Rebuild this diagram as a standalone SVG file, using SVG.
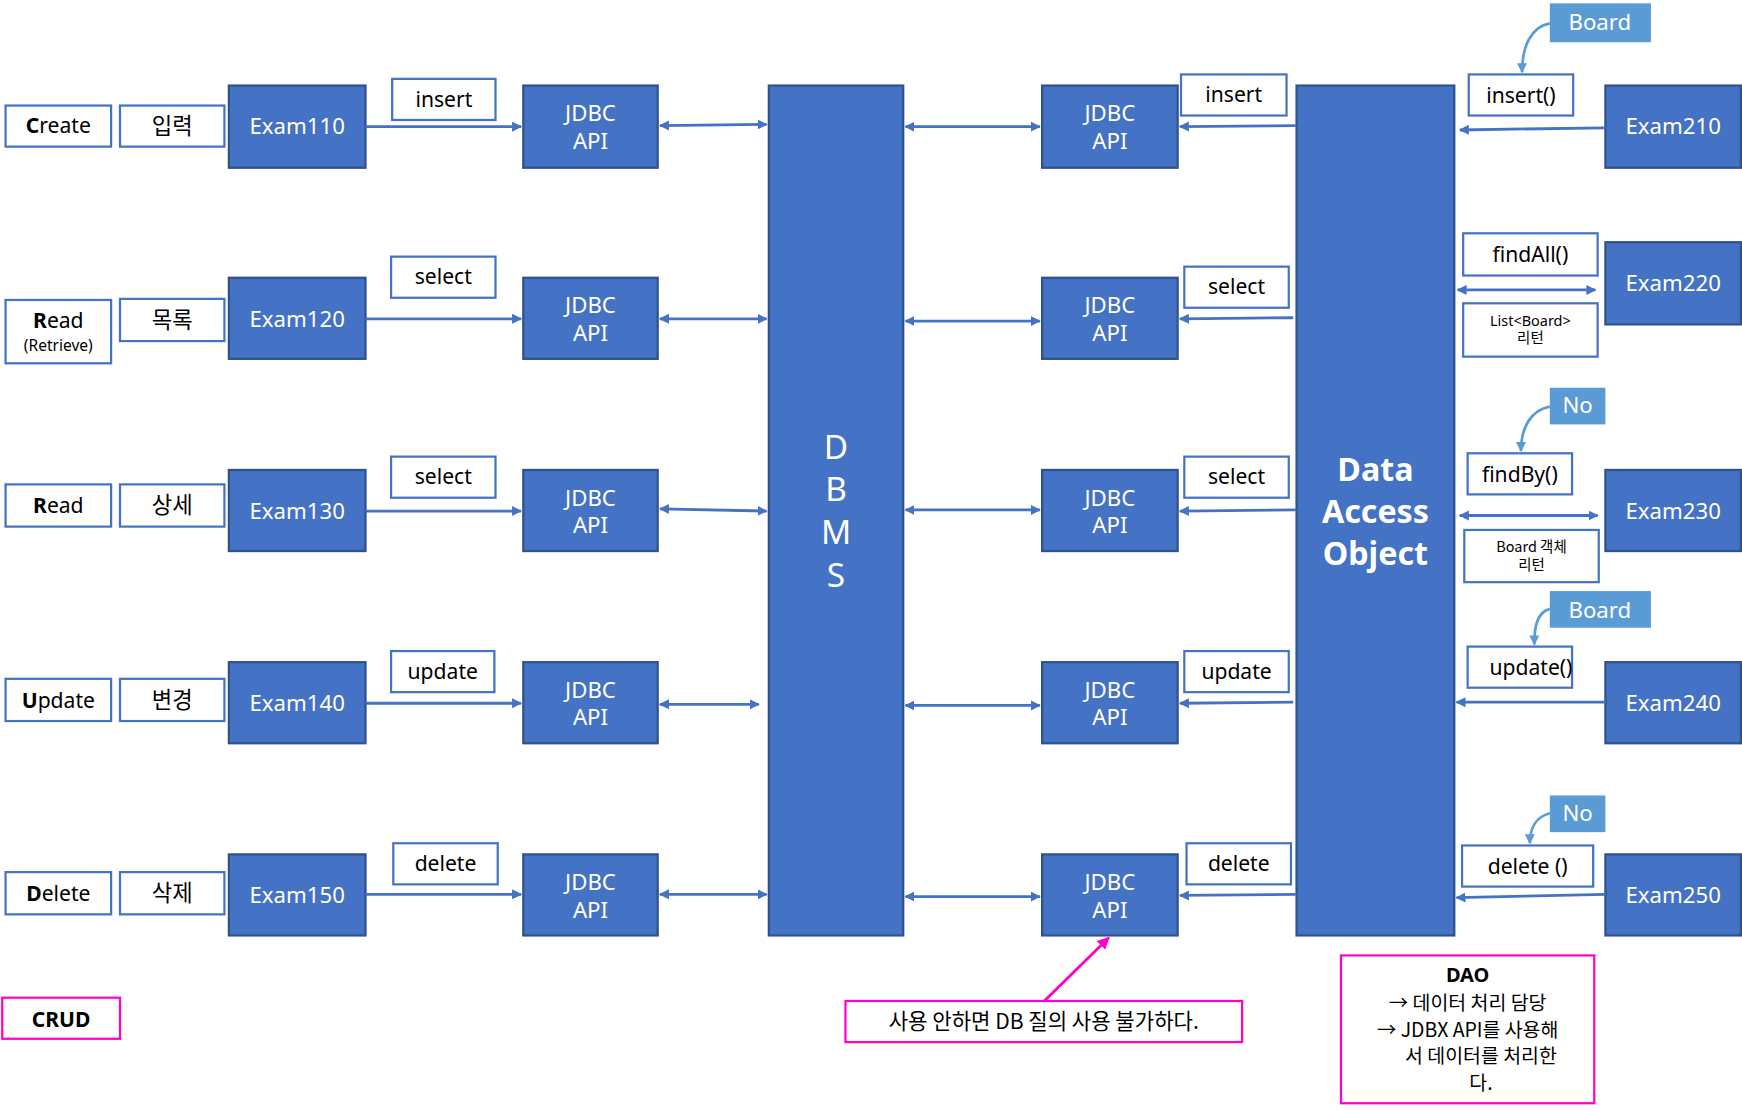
<svg xmlns="http://www.w3.org/2000/svg" width="1742" height="1110" viewBox="0 0 1742 1110">
<style>
.bx{fill:#4472C4;stroke:#2F528F;stroke-width:2}
.lb{fill:#FFFFFF;stroke:#4472C4;stroke-width:2}
.tag{fill:#5B9BD5}
.pk{fill:#FFFFFF;stroke:#FF00CC;stroke-width:2}
.wt{fill:#FFFFFF;font-family:"Noto Sans","Noto Sans CJK KR",sans-serif;font-size:20px;text-anchor:middle}
.bt{fill:#000000;font-family:"Noto Sans","Noto Sans CJK KR",sans-serif;font-size:19px;text-anchor:middle}
.kr{fill:#000000;font-family:"Noto Sans CJK KR",sans-serif;font-size:20px;text-anchor:middle}
.big{font-size:30px}
.dao{font-size:29px;font-weight:bold}
.sm{font-size:13px}
.s14{font-size:14px}
.s19{font-size:19px}
.s18{font-size:17.5px}
.cn{fill:none;stroke:#4472C4;stroke-width:2.5}
.cv{fill:none;stroke:#5B9BD5;stroke-width:2.5}
</style>
<defs>
<marker id="ah" viewBox="0 0 10 10" refX="9" refY="5" markerWidth="9" markerHeight="10" markerUnits="userSpaceOnUse" orient="auto-start-reverse"><path d="M0,0 L10,5 L0,10 z" fill="#4472C4"/></marker>
<marker id="ahl" viewBox="0 0 10 10" refX="9" refY="5" markerWidth="9" markerHeight="11" markerUnits="userSpaceOnUse" orient="auto-start-reverse"><path d="M0,0 L10,5 L0,10 z" fill="#5B9BD5"/></marker>
<marker id="ahp" viewBox="0 0 10 10" refX="9" refY="5" markerWidth="11" markerHeight="11" markerUnits="userSpaceOnUse" orient="auto-start-reverse"><path d="M0,0 L10,5 L0,10 z" fill="#FF00CC"/></marker>
</defs>
<rect width="1742" height="1110" fill="#FFFFFF"/>
<g transform="scale(1.111)">

<!-- left labels -->
<g id="lbl-create"><rect class="lb" x="5" y="95" width="95" height="37"/><text class="bt" x="52.5" y="120"><tspan font-weight="bold">C</tspan>reate</text></g>
<g id="lbl-input"><rect class="lb" x="108" y="95" width="94" height="37"/><text class="kr" x="155" y="121">입력</text></g>
<g id="lbl-read1"><rect class="lb" x="5" y="270" width="95" height="57"/><text class="bt" x="52.5" y="295"><tspan font-weight="bold">R</tspan>ead</text><text class="bt s14" x="52.5" y="316">(Retrieve)</text></g>
<g id="lbl-list"><rect class="lb" x="108" y="269" width="94" height="38"/><text class="kr" x="155" y="295">목록</text></g>
<g id="lbl-read2"><rect class="lb" x="5" y="436" width="95" height="38"/><text class="bt" x="52.5" y="462"><tspan font-weight="bold">R</tspan>ead</text></g>
<g id="lbl-detail"><rect class="lb" x="108" y="436" width="94" height="38"/><text class="kr" x="155" y="462">상세</text></g>
<g id="lbl-update"><rect class="lb" x="5" y="611" width="95" height="38"/><text class="bt" x="52.5" y="637"><tspan font-weight="bold">U</tspan>pdate</text></g>
<g id="lbl-change"><rect class="lb" x="108" y="611" width="94" height="38"/><text class="kr" x="155" y="637">변경</text></g>
<g id="lbl-delete"><rect class="lb" x="5" y="785" width="95" height="38"/><text class="bt" x="52.5" y="811"><tspan font-weight="bold">D</tspan>elete</text></g>
<g id="lbl-remove"><rect class="lb" x="108" y="785" width="94" height="38"/><text class="kr" x="155" y="811">삭제</text></g>

<!-- Exam1x0 -->
<g id="exam110"><rect class="bx" x="206" y="77" width="123" height="74"/><text class="wt" x="267.5" y="121">Exam110</text></g>
<g id="exam120"><rect class="bx" x="206" y="250" width="123" height="73"/><text class="wt" x="267.5" y="294">Exam120</text></g>
<g id="exam130"><rect class="bx" x="206" y="423" width="123" height="73"/><text class="wt" x="267.5" y="467">Exam130</text></g>
<g id="exam140"><rect class="bx" x="206" y="596" width="123" height="73"/><text class="wt" x="267.5" y="640">Exam140</text></g>
<g id="exam150"><rect class="bx" x="206" y="769" width="123" height="73"/><text class="wt" x="267.5" y="813">Exam150</text></g>

<!-- left op labels -->
<g id="op-l1"><rect class="lb" x="353" y="71" width="93" height="37"/><text class="bt" x="399.5" y="96">insert</text></g>
<g id="op-l2"><rect class="lb" x="352" y="231" width="94" height="37"/><text class="bt" x="399" y="256">select</text></g>
<g id="op-l3"><rect class="lb" x="352" y="411" width="94" height="37"/><text class="bt" x="399" y="436">select</text></g>
<g id="op-l4"><rect class="lb" x="352" y="586" width="93" height="37"/><text class="bt" x="398.5" y="611">update</text></g>
<g id="op-l5"><rect class="lb" x="354" y="759" width="94" height="37"/><text class="bt" x="401" y="784">delete</text></g>

<!-- left JDBC -->
<g id="jdbc-l1"><rect class="bx" x="471" y="77" width="121" height="74"/><text class="wt" x="531.5" y="109">JDBC</text><text class="wt" x="531.5" y="134">API</text></g>
<g id="jdbc-l2"><rect class="bx" x="471" y="250" width="121" height="73"/><text class="wt" x="531.5" y="282">JDBC</text><text class="wt" x="531.5" y="307">API</text></g>
<g id="jdbc-l3"><rect class="bx" x="471" y="423" width="121" height="73"/><text class="wt" x="531.5" y="455">JDBC</text><text class="wt" x="531.5" y="480">API</text></g>
<g id="jdbc-l4"><rect class="bx" x="471" y="596" width="121" height="73"/><text class="wt" x="531.5" y="628">JDBC</text><text class="wt" x="531.5" y="653">API</text></g>
<g id="jdbc-l5"><rect class="bx" x="471" y="769" width="121" height="73"/><text class="wt" x="531.5" y="801">JDBC</text><text class="wt" x="531.5" y="826">API</text></g>

<!-- DBMS -->
<g id="dbms"><rect class="bx" x="692" y="77" width="121" height="765"/>
<text class="wt big" x="752.5" y="413">D</text><text class="wt big" x="752.5" y="451">B</text><text class="wt big" x="752.5" y="490">M</text><text class="wt big" x="752.5" y="528">S</text></g>

<!-- right JDBC -->
<g id="jdbc-r1"><rect class="bx" x="938" y="77" width="122" height="74"/><text class="wt" x="999" y="109">JDBC</text><text class="wt" x="999" y="134">API</text></g>
<g id="jdbc-r2"><rect class="bx" x="938" y="250" width="122" height="73"/><text class="wt" x="999" y="282">JDBC</text><text class="wt" x="999" y="307">API</text></g>
<g id="jdbc-r3"><rect class="bx" x="938" y="423" width="122" height="73"/><text class="wt" x="999" y="455">JDBC</text><text class="wt" x="999" y="480">API</text></g>
<g id="jdbc-r4"><rect class="bx" x="938" y="596" width="122" height="73"/><text class="wt" x="999" y="628">JDBC</text><text class="wt" x="999" y="653">API</text></g>
<g id="jdbc-r5"><rect class="bx" x="938" y="769" width="122" height="73"/><text class="wt" x="999" y="801">JDBC</text><text class="wt" x="999" y="826">API</text></g>

<!-- right op labels -->
<g id="op-r1"><rect class="lb" x="1063" y="67" width="95" height="37"/><text class="bt" x="1110.5" y="92">insert</text></g>
<g id="op-r2"><rect class="lb" x="1066" y="240" width="94" height="37"/><text class="bt" x="1113" y="265">select</text></g>
<g id="op-r3"><rect class="lb" x="1066" y="411" width="94" height="37"/><text class="bt" x="1113" y="436">select</text></g>
<g id="op-r4"><rect class="lb" x="1066" y="586" width="94" height="37"/><text class="bt" x="1113" y="611">update</text></g>
<g id="op-r5"><rect class="lb" x="1068" y="759" width="94" height="37"/><text class="bt" x="1115" y="784">delete</text></g>

<!-- DAO -->
<g id="dao"><rect class="bx" x="1167" y="77" width="142" height="765"/>
<text class="wt dao" x="1238" y="433">Data</text>
<text class="wt dao" x="1238" y="471">Access</text>
<text class="wt dao" x="1238" y="509">Object</text></g>

<!-- method labels -->
<g id="m-insert"><rect class="lb" x="1322" y="67" width="94" height="37"/><text class="bt" x="1369" y="93">insert()</text></g>
<g id="m-findall"><rect class="lb" x="1317" y="210" width="121" height="38"/><text class="bt" x="1377.5" y="236">findAll()</text></g>
<g id="m-list"><rect class="lb" x="1317" y="273" width="121" height="48"/><text class="bt sm" x="1377.5" y="293">List&lt;Board&gt;</text><text class="kr sm" x="1377.5" y="309">리턴</text></g>
<g id="m-findby"><rect class="lb" x="1321" y="408" width="94" height="37"/><text class="bt" x="1368" y="434">findBy()</text></g>
<g id="m-obj"><rect class="lb" x="1318" y="477" width="121" height="47"/><text class="kr sm" x="1378.5" y="497">Board 객체</text><text class="kr sm" x="1378.5" y="513">리턴</text></g>
<g id="m-update"><rect class="lb" x="1321" y="582" width="94" height="37"/><text class="bt" x="1378" y="608">update()</text></g>
<g id="m-delete"><rect class="lb" x="1316" y="761" width="118" height="37"/><text class="bt" x="1375" y="787">delete ()</text></g>

<!-- tags -->
<g id="tag-board1"><rect class="tag" x="1395" y="3" width="91" height="35"/><text class="wt" x="1440" y="27">Board</text></g>
<g id="tag-no1"><rect class="tag" x="1395" y="349" width="50" height="33"/><text class="wt" x="1420" y="372">No</text></g>
<g id="tag-board2"><rect class="tag" x="1395" y="532" width="91" height="33"/><text class="wt" x="1440" y="556">Board</text></g>
<g id="tag-no2"><rect class="tag" x="1395" y="716" width="50" height="33"/><text class="wt" x="1420" y="739">No</text></g>

<!-- Exam2x0 -->
<g id="exam210"><rect class="bx" x="1445" y="77" width="122" height="74"/><text class="wt" x="1506" y="121">Exam210</text></g>
<g id="exam220"><rect class="bx" x="1445" y="218" width="122" height="74"/><text class="wt" x="1506" y="262">Exam220</text></g>
<g id="exam230"><rect class="bx" x="1445" y="423" width="122" height="73"/><text class="wt" x="1506" y="467">Exam230</text></g>
<g id="exam240"><rect class="bx" x="1445" y="596" width="122" height="73"/><text class="wt" x="1506" y="640">Exam240</text></g>
<g id="exam250"><rect class="bx" x="1445" y="769" width="122" height="73"/><text class="wt" x="1506" y="813">Exam250</text></g>

<!-- notes -->
<g id="note-crud"><rect class="pk" x="2" y="898" width="106" height="37"/><text class="bt" x="55" y="924" font-weight="bold">CRUD</text></g>
<g id="note-jdbc"><rect class="pk" x="761" y="901" width="357" height="37"/><text class="kr s19" x="939.5" y="926">사용 안하면 DB 질의 사용 불가하다.</text></g>
<g id="note-dao"><rect class="pk" x="1207" y="860" width="228" height="133"/>
<text class="bt" x="1321" y="884" font-weight="bold" style="font-size:18px">DAO</text>
<text class="kr s18" x="1321" y="909">→ 데이터 처리 담당</text>
<text class="kr s18" x="1321" y="933">→ JDBX API를 사용해</text>
<text class="kr s18" x="1333" y="957">서 데이터를 처리한</text>
<text class="kr s18" x="1333" y="981">다.</text></g>

<!-- connectors -->
<g id="connectors">
<path class="cn" d="M329,114 L469,114" marker-end="url(#ah)"/>
<path class="cn" d="M329,287 L469,287" marker-end="url(#ah)"/>
<path class="cn" d="M329,460 L469,460" marker-end="url(#ah)"/>
<path class="cn" d="M329,633 L469,633" marker-end="url(#ah)"/>
<path class="cn" d="M329,805 L469,805" marker-end="url(#ah)"/>

<path class="cn" d="M594,113 L690,112" marker-start="url(#ah)" marker-end="url(#ah)"/>
<path class="cn" d="M594,287 L690,287" marker-start="url(#ah)" marker-end="url(#ah)"/>
<path class="cn" d="M594,458 L690,460" marker-start="url(#ah)" marker-end="url(#ah)"/>
<path class="cn" d="M594,634 L683,634" marker-start="url(#ah)" marker-end="url(#ah)"/>
<path class="cn" d="M594,805 L690,805" marker-start="url(#ah)" marker-end="url(#ah)"/>

<path class="cn" d="M815,114 L936,114" marker-start="url(#ah)" marker-end="url(#ah)"/>
<path class="cn" d="M815,289 L936,289" marker-start="url(#ah)" marker-end="url(#ah)"/>
<path class="cn" d="M815,459 L936,459" marker-start="url(#ah)" marker-end="url(#ah)"/>
<path class="cn" d="M815,635 L936,635" marker-start="url(#ah)" marker-end="url(#ah)"/>
<path class="cn" d="M815,807 L936,807" marker-start="url(#ah)" marker-end="url(#ah)"/>

<path class="cn" d="M1167,113 L1062,114" marker-end="url(#ah)"/>
<path class="cn" d="M1164,286 L1062,287" marker-end="url(#ah)"/>
<path class="cn" d="M1167,459 L1062,460" marker-end="url(#ah)"/>
<path class="cn" d="M1164,632 L1062,633" marker-end="url(#ah)"/>
<path class="cn" d="M1167,805 L1062,806" marker-end="url(#ah)"/>

<path class="cn" d="M1445,115 L1314,117" marker-end="url(#ah)"/>
<path class="cn" d="M1312,261 L1436,261" marker-start="url(#ah)" marker-end="url(#ah)"/>
<path class="cn" d="M1314,464 L1438,464" marker-start="url(#ah)" marker-end="url(#ah)"/>
<path class="cn" d="M1445,632 L1311,632" marker-end="url(#ah)"/>
<path class="cn" d="M1445,805 L1311,808" marker-end="url(#ah)"/>

<path class="cv" d="M1395,21 C1378,24 1370,42 1370,65" marker-end="url(#ahl)"/>
<path class="cv" d="M1395,366 C1378,369 1369,385 1369,406" marker-end="url(#ahl)"/>
<path class="cv" d="M1395,548 C1384,551 1381,563 1381,580" marker-end="url(#ahl)"/>
<path class="cv" d="M1395,732 C1383,735 1377,745 1377,759" marker-end="url(#ahl)"/>

<path d="M940,901 L998,844" fill="none" stroke="#FF00CC" stroke-width="2.5" marker-end="url(#ahp)"/>
</g>
</g>
</svg>
